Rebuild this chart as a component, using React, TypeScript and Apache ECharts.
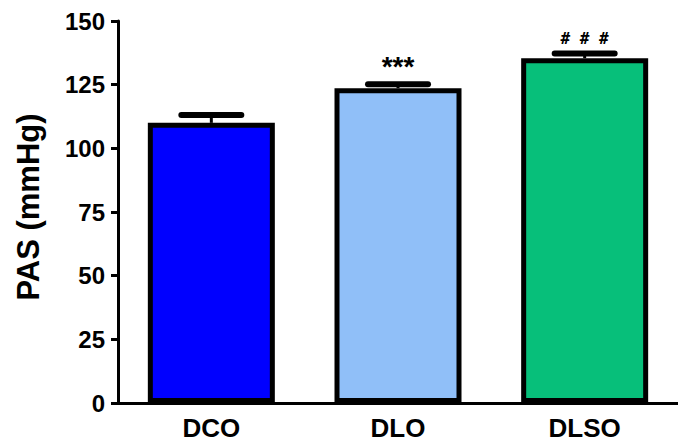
import React, { useEffect, useRef } from "react";
import * as echarts from "echarts";

const categories = ["DCO", "DLO", "DLSO"];
const means = [110, 123.6, 135.4];
const errTops = [113.1, 125.2, 137.2];
const annotations = ["", "***", "# # #"];
const barColors = ["#0000FF", "#90BFF8", "#07BF7A"];
const yTicks = { min: 0, max: 150, interval: 25 };
const yTitle = "PAS (mmHg)";

export default function App() {
  const ref = useRef<HTMLDivElement>(null);
  useEffect(() => {
    if (!ref.current) return;
    const chart = echarts.init(ref.current, null, { renderer: "svg" });
    const font = "'Liberation Sans', Arial, sans-serif";
    chart.setOption({
      animation: false,
      grid: { left: 118, top: 21, bottom: 42, width: 573 },
      graphic: [
        {
          type: "text",
          x: 28,
          y: 207,
          rotation: Math.PI / 2,
          style: {
            text: yTitle,
            fill: "#000",
            fontFamily: font,
            fontWeight: "bold",
            fontSize: 31,
            align: "center",
            verticalAlign: "middle",
          },
        },
      ],
      xAxis: {
        type: "category",
        data: categories,
        axisLine: { lineStyle: { color: "#000", width: 3 } },
        axisTick: { alignWithLabel: true, length: 7, lineStyle: { color: "#000", width: 3 } },
        axisLabel: { color: "#000", fontFamily: font, fontWeight: "bold", fontSize: 26, margin: 12 },
      },
      yAxis: {
        type: "value",
        min: yTicks.min,
        max: yTicks.max,
        interval: yTicks.interval,
        splitLine: { show: false },
        axisLine: { show: true, lineStyle: { color: "#000", width: 3 } },
        axisTick: { show: true, length: 7, lineStyle: { color: "#000", width: 3 } },
        axisLabel: { color: "#000", fontFamily: font, fontWeight: "bold", fontSize: 24, margin: 13 },
      },
      series: [
        {
          type: "bar",
          barWidth: 127,
          data: means.map((v, i) => ({
            value: v,
            itemStyle: { color: barColors[i], borderColor: "#000", borderWidth: 5 },
          })),
          z: 2,
        },
        {
          type: "custom",
          z: 3,
          data: categories.map((_, i) => [i, means[i], errTops[i]]),
          renderItem: (params: any, api: any) => {
            const i = api.value(0);
            const top = api.coord([i, api.value(2)]);
            const base = api.coord([i, api.value(1)]);
            const x = top[0];
            const children: any[] = [
              {
                type: "line",
                shape: { x1: x, y1: base[1], x2: x, y2: top[1] },
                style: { stroke: "#000", lineWidth: 3 },
              },
              {
                type: "rect",
                shape: { x: x - 33, y: top[1] - 3, width: 66, height: 6, r: 3 },
                style: { fill: "#000" },
              },
            ];
            const ann = annotations[i];
            if (ann) {
              const isHash = ann.indexOf("#") >= 0;
              children.push({
                type: "text",
                x: x,
                y: isHash ? top[1] - 15 : top[1] - 18,
                style: {
                  text: ann,
                  fill: "#000",
                  fontFamily: isHash ? "'DejaVu Sans Mono', monospace" : font,
                  fontWeight: "bold",
                  fontSize: isHash ? 16 : 28,
                  align: "center",
                  verticalAlign: "middle",
                },
              });
            }
            return { type: "group", children };
          },
        },
      ],
    });
    return () => chart.dispose();
  }, []);
  return <div ref={ref} style={{ width: 678, height: 445, position: "absolute", left: 0, top: 0 }} />;
}
